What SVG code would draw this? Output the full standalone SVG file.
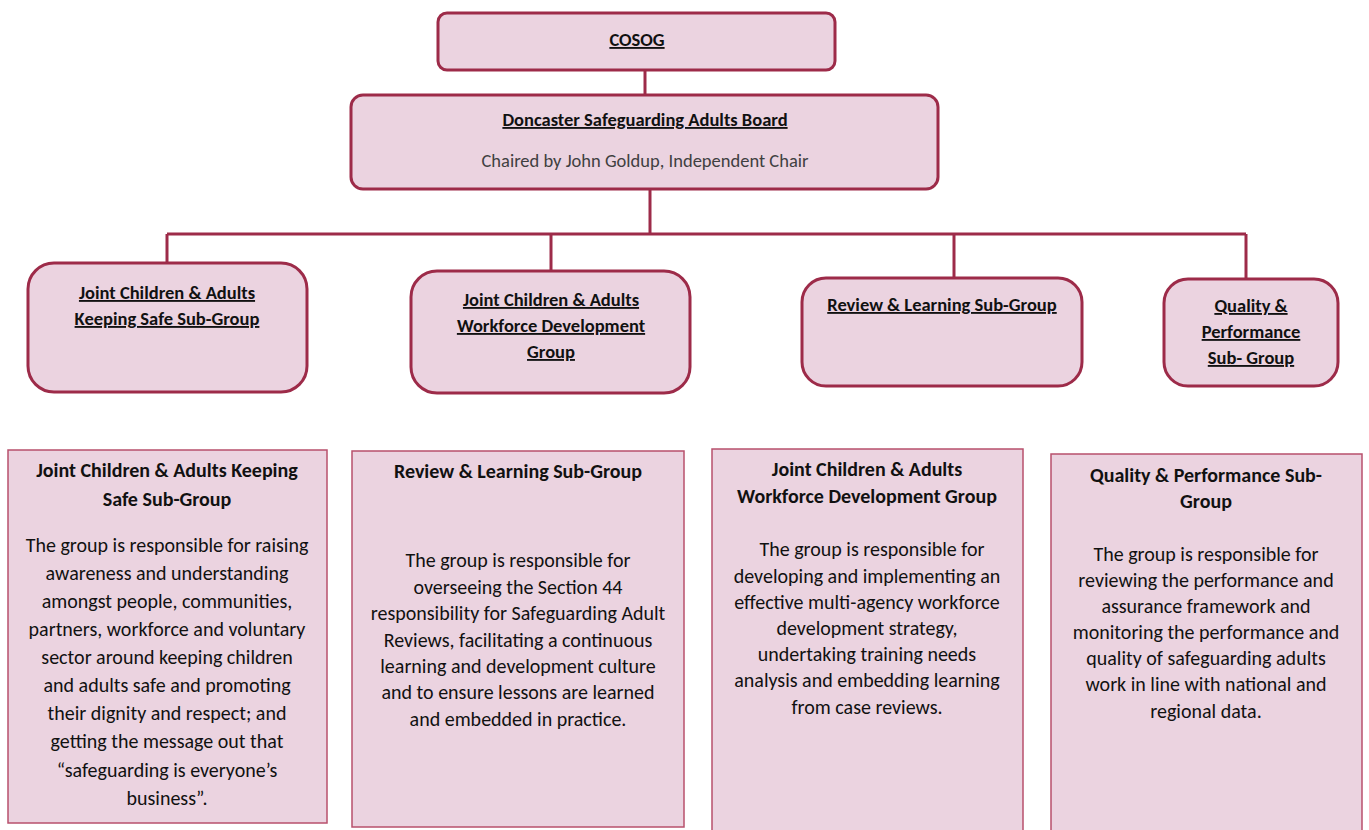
<svg xmlns="http://www.w3.org/2000/svg" width="1369" height="830" viewBox="0 0 1369 830">
<style>
.org{fill:#ebd3e0;stroke:#9d2b49;stroke-width:3}
.desc{fill:#ebd3e0;stroke:#b8506c;stroke-width:1.5}
.conn{fill:none;stroke:#9d2b49;stroke-width:3}
text{font-family:Carlito,Lato,"Liberation Sans",sans-serif;fill:#111;text-anchor:middle}
.h{font-size:18.5px;font-weight:bold;text-decoration:underline}
.t{font-size:20px;font-weight:bold}
.b{font-size:20px}
.sub{font-size:18.5px;fill:#404040}
</style>
<rect width="1369" height="830" fill="#fff"/>
<g id="connectors">
<path class="conn" d="M645 70V95"/>
<path class="conn" d="M650 189V234"/>
<path class="conn" d="M167 234H1246"/>
<path class="conn" d="M167 234V263"/>
<path class="conn" d="M551 234V270"/>
<path class="conn" d="M954 234V278"/>
<path class="conn" d="M1246 234V279"/>
</g>
<g id="cosog">
<rect class="org" x="438" y="13" width="397" height="57" rx="9" stroke-width="2"/>
<text class="h" x="637" y="46">COSOG</text>
</g>
<g id="dsab">
<rect class="org" x="351" y="95" width="587" height="94" rx="12" stroke-width="2"/>
<text class="h" x="645" y="126">Doncaster Safeguarding Adults Board</text>
<text class="sub" x="645" y="167">Chaired by John Goldup, Independent Chair</text>
</g>
<g id="keeping-safe">
<rect class="org" x="28" y="263" width="279" height="129" rx="26"/>
<text class="h" x="167" y="299">Joint Children &amp; Adults</text>
<text class="h" x="167" y="325">Keeping Safe Sub-Group</text>
</g>
<g id="workforce">
<rect class="org" x="411" y="271" width="279" height="122" rx="26"/>
<text class="h" x="551" y="306">Joint Children &amp; Adults</text>
<text class="h" x="551" y="332">Workforce Development</text>
<text class="h" x="551" y="358">Group</text>
</g>
<g id="review">
<rect class="org" x="802" y="278" width="280" height="108" rx="24"/>
<text class="h" x="942" y="311">Review &amp; Learning Sub-Group</text>
</g>
<g id="quality">
<rect class="org" x="1164" y="279" width="174" height="107" rx="24"/>
<text class="h" x="1251" y="312">Quality &amp;</text>
<text class="h" x="1251" y="338">Performance</text>
<text class="h" x="1251" y="364">Sub- Group</text>
</g>
<g id="desc-keeping-safe">
<rect class="desc" x="8" y="450" width="319" height="373"/>
<text class="t" x="167" y="477">Joint Children &amp; Adults Keeping</text>
<text class="t" x="167" y="506">Safe Sub-Group</text>
<text class="b" x="167" y="552">The group is responsible for raising</text>
<text class="b" x="167" y="580">awareness and understanding</text>
<text class="b" x="167" y="608">amongst people, communities,</text>
<text class="b" x="167" y="636">partners, workforce and voluntary</text>
<text class="b" x="167" y="664">sector around keeping children</text>
<text class="b" x="167" y="692">and adults safe and promoting</text>
<text class="b" x="167" y="720">their dignity and respect; and</text>
<text class="b" x="167" y="748">getting the message out that</text>
<text class="b" x="167" y="777">“safeguarding is everyone’s</text>
<text class="b" x="167" y="805">business”.</text>
</g>
<g id="desc-review">
<rect class="desc" x="352" y="451" width="332" height="376"/>
<text class="t" x="518" y="478">Review &amp; Learning Sub-Group</text>
<text class="b" x="518" y="567">The group is responsible for</text>
<text class="b" x="518" y="594">overseeing the Section 44</text>
<text class="b" x="518" y="620">responsibility for Safeguarding Adult</text>
<text class="b" x="518" y="647">Reviews, facilitating a continuous</text>
<text class="b" x="518" y="673">learning and development culture</text>
<text class="b" x="518" y="699">and to ensure lessons are learned</text>
<text class="b" x="518" y="726">and embedded in practice.</text>
</g>
<g id="desc-workforce">
<rect class="desc" x="712" y="449" width="311" height="385"/>
<text class="t" x="867" y="476">Joint Children &amp; Adults</text>
<text class="t" x="867" y="503">Workforce Development Group</text>
<text class="b" x="872" y="556">The group is responsible for</text>
<text class="b" x="867" y="583">developing and implementing an</text>
<text class="b" x="867" y="609">effective multi-agency workforce</text>
<text class="b" x="867" y="635">development strategy,</text>
<text class="b" x="867" y="661">undertaking training needs</text>
<text class="b" x="867" y="687">analysis and embedding learning</text>
<text class="b" x="867" y="714">from case reviews.</text>
</g>
<g id="desc-quality">
<rect class="desc" x="1051" y="454" width="311" height="380"/>
<text class="t" x="1206" y="482">Quality &amp; Performance Sub-</text>
<text class="t" x="1206" y="508">Group</text>
<text class="b" x="1206" y="561">The group is responsible for</text>
<text class="b" x="1206" y="587">reviewing the performance and</text>
<text class="b" x="1206" y="613">assurance framework and</text>
<text class="b" x="1206" y="639">monitoring the performance and</text>
<text class="b" x="1206" y="665">quality of safeguarding adults</text>
<text class="b" x="1206" y="691">work in line with national and</text>
<text class="b" x="1206" y="718">regional data.</text>
</g>
</svg>
